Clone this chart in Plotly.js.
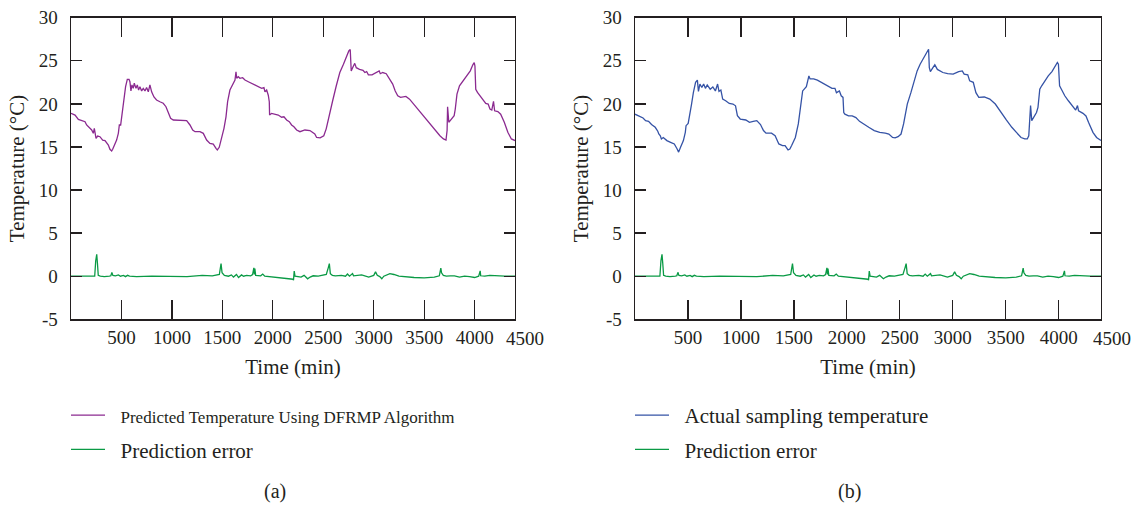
<!DOCTYPE html>
<html><head><meta charset="utf-8">
<script src="https://cdn.plot.ly/plotly-3.0.1.min.js"></script>
<style>html,body{margin:0;padding:0;background:#fff}#chart{width:1136px;height:505px}</style>
</head><body><div id="chart"></div>
<script>
// ---- Data ----
const predTime = [
  0,40,73,106,139,155,188,205,221,231,
  248,264,287,314,337,353,370,386,403,413,
  426,452,469,479,492,502,518,528,541,558,
  575,584,594,604,617,627,644,657,670,683,
  700,716,733,749,766,782,799,822,848,881,
  914,941,964,987,1014,1080,1146,1179,1206,1229,
  1278,1311,1344,1377,1410,1437,1450,1469,1493,1516,
  1536,1552,1575,1602,1625,1635,1642,1658,1674,1701,
  1724,1757,1790,1823,1856,1889,1912,1922,1939,1955,
  1965,1968,1988,2021,2054,2087,2110,2137,2163,2186,
  2209,2236,2269,2318,2368,2416,2434,2469,2505,2529,
  2558,2593,2629,2664,2700,2728,2753,2767,2777,2799,
  2812,2827,2859,2894,2912,2930,2947,2983,3018,3054,
  3065,3089,3124,3160,3188,3213,3238,3266,3319,3355,
  3408,3461,3514,3567,3620,3656,3691,3716,3727,3732,
  3744,3769,3797,3808,3825,3850,3886,3922,3957,3982,
  3996,4003,4011,4028,4064,4081,4110,4134,4152,4170,
  4187,4198,4230,4258,4294,4329,4364,4400
];
const predTemp = [
  18.9,18.7,18.2,18.05,17.93,17.55,17.16,16.97,16.58,17.16,
  16.0,16.27,16.19,15.8,15.73,15.54,15.23,14.73,14.53,14.73,
  15.1,15.8,16.58,17.55,17.55,18.5,20.07,21.2,22.0,22.85,
  22.85,22.57,21.5,22.2,21.8,22.4,21.8,22.2,21.6,22.0,
  21.5,21.8,21.5,21.9,21.4,22.2,21.4,20.8,20.45,20.25,
  20.07,19.67,18.9,18.33,18.13,18.13,18.05,17.55,16.97,16.77,
  16.77,16.58,15.8,15.42,15.34,14.84,14.65,14.96,16.0,17.16,
  18.5,20.25,21.6,22.2,22.77,23.73,22.97,23.15,22.97,23.04,
  22.77,22.57,22.4,22.2,22.0,21.8,21.9,21.4,21.6,21.0,
  20.25,18.7,18.9,18.8,18.7,18.45,18.5,18.13,17.93,17.55,
  17.35,16.97,16.77,16.97,16.9,16.5,16.1,16.05,16.3,17.1,
  18.43,20.36,22.1,23.64,24.6,25.4,26.14,26.3,23.83,24.4,
  24.7,24.2,24.0,23.9,23.64,23.75,23.37,23.37,23.64,23.83,
  23.5,23.64,23.5,22.75,22.3,21.5,20.94,20.75,20.86,20.55,
  19.8,19.0,18.24,17.47,16.7,16.3,15.93,15.8,16.9,19.67,
  17.86,18.24,18.63,19.4,21.13,22.1,22.67,23.25,23.83,24.53,
  24.8,24.4,21.7,21.33,20.75,20.44,20.05,19.98,19.4,19.28,
  20.3,19.2,19.1,18.8,17.86,16.7,15.93,15.74
];
const actualTime = [
  0,42,76,100,128,156,191,215,225,239,
  249,267,301,336,371,398,412,430,457,475,
  482,502,516,534,551,572,589,599,613,631,
  648,665,682,710,735,759,780,793,811,828,
  856,890,925,949,967,994,1046,1081,1116,1150,
  1185,1213,1237,1289,1323,1358,1393,1417,1445,1462,
  1479,1514,1542,1566,1583,1618,1642,1653,1687,1722,
  1757,1791,1826,1860,1888,1902,1930,1947,1964,1971,
  1982,2016,2051,2086,2120,2165,2207,2259,2311,2363,
  2397,2432,2456,2484,2512,2536,2571,2605,2640,2664,
  2692,2727,2761,2772,2779,2789,2813,2831,2855,2883,
  2907,2952,3004,3056,3090,3108,3142,3160,3194,3219,
  3246,3298,3350,3402,3454,3506,3558,3610,3645,3680,
  3704,3718,3729,3735,3746,3767,3791,3805,3822,3840,
  3867,3902,3937,3971,3988,3998,4009,4026,4058,4092,
  4116,4144,4161,4178,4188,4230,4258,4282,4324,4358,
  4400
];
const actualTemp = [
  18.8,18.6,18.36,18.05,17.97,17.6,17.28,16.82,16.5,16.3,
  15.93,16.1,15.74,15.54,15.35,14.77,14.4,14.97,15.74,16.7,
  17.47,17.74,18.6,19.98,21.3,22.5,22.75,21.45,22.3,21.9,
  22.3,21.8,22.2,21.7,21.97,21.5,22.3,21.45,21.6,20.55,
  20.36,20.05,19.98,19.78,18.63,18.24,18.13,17.86,17.97,18.05,
  17.6,16.9,16.6,16.6,16.3,15.35,15.16,15.16,14.65,14.77,
  15.16,16.1,17.67,19.98,21.5,22.0,23.25,22.9,22.9,22.75,
  22.5,22.3,22.1,21.8,21.8,21.3,21.5,20.94,20.75,19.0,
  18.8,18.6,18.6,18.4,17.97,17.66,17.28,16.9,16.7,16.6,
  16.5,16.1,16.05,16.2,16.5,17.67,19.98,21.3,22.67,23.83,
  24.6,25.37,26.2,26.34,24.2,23.75,24.2,24.53,24.0,23.83,
  23.64,23.5,23.45,23.75,23.83,23.45,23.37,22.67,22.5,21.3,
  20.75,20.8,20.55,19.98,19.0,18.13,17.28,16.5,16.1,15.93,
  15.93,16.3,18.8,19.8,18.05,18.43,19.0,19.6,21.7,22.1,
  22.67,23.25,23.75,24.4,24.8,24.6,22.1,21.7,20.94,20.36,
  19.98,19.6,19.28,19.8,19.2,18.9,18.6,17.86,16.7,16.1,
  15.74
];
const errTime = [
  0,100,200,235,245,255,262,270,290,330,
  380,395,405,415,440,470,490,520,540,560,
  580,650,800,1000,1150,1300,1400,1470,1487,1497,
  1520,1560,1590,1610,1640,1660,1690,1710,1740,1780,
  1800,1812,1818,1822,1830,1880,1900,1920,2000,2100,
  2200,2205,2212,2220,2280,2310,2345,2370,2400,2450,
  2530,2550,2560,2570,2590,2620,2680,2720,2740,2760,
  2790,2800,2880,2950,3000,3018,3035,3060,3080,3100,
  3160,3200,3250,3400,3500,3600,3650,3665,3672,3690,
  3720,3760,3800,3850,3900,3950,4000,4040,4055,4060,
  4100,4150,4200,4300,4400
];
const errValue = [
  0,0,-0.02,0,1.8,2.55,1.5,0.1,0,-0.05,
  0,0.05,0.45,0.1,0.05,0.15,0,0.1,-0.05,0.1,
  0,-0.05,0,0.02,-0.05,0.1,0.05,0.2,1.47,0.4,
  0.1,0,0.15,-0.1,0.2,-0.15,0.15,0,0.1,0.05,
  0.2,0.97,0.2,0.9,0.1,0.05,0.25,0,-0.1,-0.15,
  -0.35,-0.45,0.6,0,-0.1,0.1,-0.3,-0.1,0.05,0,
  0.2,1.0,1.47,0.3,0.1,0.05,0.1,0,0.25,0,
  0.3,0.05,0.15,-0.1,0.1,0.5,0.1,-0.05,-0.3,0,
  0.3,0.2,0,-0.15,-0.2,-0.1,0.05,0.95,0.4,0.1,
  0,0.05,0.05,-0.1,0,-0.05,-0.15,0,0.62,0.05,
  0,0.1,0.05,0,0
];
const yTickVals = [-5,0,5,10,15,20,25,30];
const yTickText = ['-5','0','5','10','15','20','25','30'];
const xTickVals = [500,1000,1500,2000,2500,3000,3500,4000];
const xTickText = ['500','1000','1500','2000','2500','3000','3500','4000'];
const xEndLabel = '4500';
const xEndValue = 4500;
const xMax = 4400;
const names = {
  pred: 'Predicted Temperature Using DFRMP Algorithm',
  actual: 'Actual sampling temperature',
  err: 'Prediction error'
};

// ---- Styling ----
const W = 1136, H = 505;
const FONT = '"Liberation Serif", "Times New Roman", serif';
const INK = '#231f20';
const C_PRED = '#8b2a90', C_ACT = '#3553a6', C_ERR = '#0a9a45';
const domA = [71/W, 515/W], domB = [635/W, 1101/W];
const domY = [1 - 319.3/H, 1 - 17.7/H];

function xAxis(dom, anchor) {
  return {domain: dom, anchor: anchor, range: [0, xMax], tickmode: 'array',
    tickvals: xTickVals, ticktext: xTickText, ticks: 'inside', ticklen: 19,
    tickwidth: 1.3, tickcolor: INK, showline: true, linecolor: INK, linewidth: 1.4,
    mirror: 'ticks', showgrid: false, zeroline: false,
    tickfont: {size: 19, color: INK, family: FONT},
    ticklabelstandoff: 0, automargin: false, fixedrange: true,
    title: {text: 'Time (min)', font: {size: 21, color: INK, family: FONT}, standoff: 12}};
}
function yAxis(dom, anchor) {
  return {domain: dom, anchor: anchor, range: [-5, 30], tickmode: 'array',
    tickvals: yTickVals, ticktext: yTickText, ticks: 'inside', ticklen: 11,
    tickwidth: 1.3, tickcolor: INK, showline: true, linecolor: INK, linewidth: 1.4,
    mirror: 'ticks', showgrid: false, zeroline: false,
    tickfont: {size: 19, color: INK, family: FONT},
    ticklabelstandoff: 8, automargin: false, fixedrange: true,
    title: {text: 'Temperature (°C)', font: {size: 21, color: INK, family: FONT}, standoff: 8}};
}

const GAP = '&nbsp;&nbsp;';
const traces = [
  {x: predTime, y: predTemp, xaxis: 'x', yaxis: 'y', mode: 'lines',
   name: GAP + '<span style="font-size:17px">' + names.pred + '</span>',
   line: {color: C_PRED, width: 1.3}, legend: 'legend', legendgroup: 'a1'},
  {x: errTime, y: errValue, xaxis: 'x', yaxis: 'y', mode: 'lines', name: GAP + names.err,
   line: {color: C_ERR, width: 1.3}, legend: 'legend', legendgroup: 'a2'},
  {x: actualTime, y: actualTemp, xaxis: 'x2', yaxis: 'y2', mode: 'lines', name: GAP + names.actual,
   line: {color: C_ACT, width: 1.3}, legend: 'legend2', legendgroup: 'b1'},
  {x: errTime, y: errValue, xaxis: 'x2', yaxis: 'y2', mode: 'lines', name: GAP + names.err,
   line: {color: C_ERR, width: 1.3}, legend: 'legend2', legendgroup: 'b2'}
];

function endLabel(dom) {
  return {xref: 'paper', yref: 'paper', x: dom[0] + (dom[1]-dom[0]) * xEndValue / xMax,
    y: domY[0], yshift: -7, xanchor: 'center', yanchor: 'top', showarrow: false,
    text: xEndLabel, font: {size: 19, color: INK, family: FONT}};
}

const legendBase = {xanchor: 'left', yanchor: 'top', bgcolor: 'rgba(0,0,0,0)',
  font: {size: 21, color: INK, family: FONT}, tracegroupgap: 4, itemwidth: 34,
  orientation: 'v'};

const layout = {
  width: W, height: H, margin: {l: 0, r: 0, t: 0, b: 0},
  paper_bgcolor: '#fff', plot_bgcolor: '#fff',
  font: {family: FONT, color: INK},
  showlegend: true,
  xaxis: xAxis(domA, 'y'), yaxis: yAxis(domY, 'x'),
  xaxis2: xAxis(domB, 'y2'), yaxis2: yAxis(domY, 'x2'),
  legend: Object.assign({x: 66/W, y: 1 - 395/H}, legendBase),
  legend2: Object.assign({x: 630/W, y: 1 - 395/H}, legendBase),
  annotations: [
    endLabel(domA), endLabel(domB),
    {xref: 'paper', yref: 'paper', x: 275/W, y: 1 - 491/H, xanchor: 'center', yanchor: 'middle',
     showarrow: false, text: '(a)', font: {size: 20, color: INK, family: FONT}},
    {xref: 'paper', yref: 'paper', x: 849/W, y: 1 - 491/H, xanchor: 'center', yanchor: 'middle',
     showarrow: false, text: '(b)', font: {size: 20, color: INK, family: FONT}}
  ]
};

Plotly.newPlot('chart', traces, layout, {displayModeBar: false, staticPlot: true});
</script></body></html>
